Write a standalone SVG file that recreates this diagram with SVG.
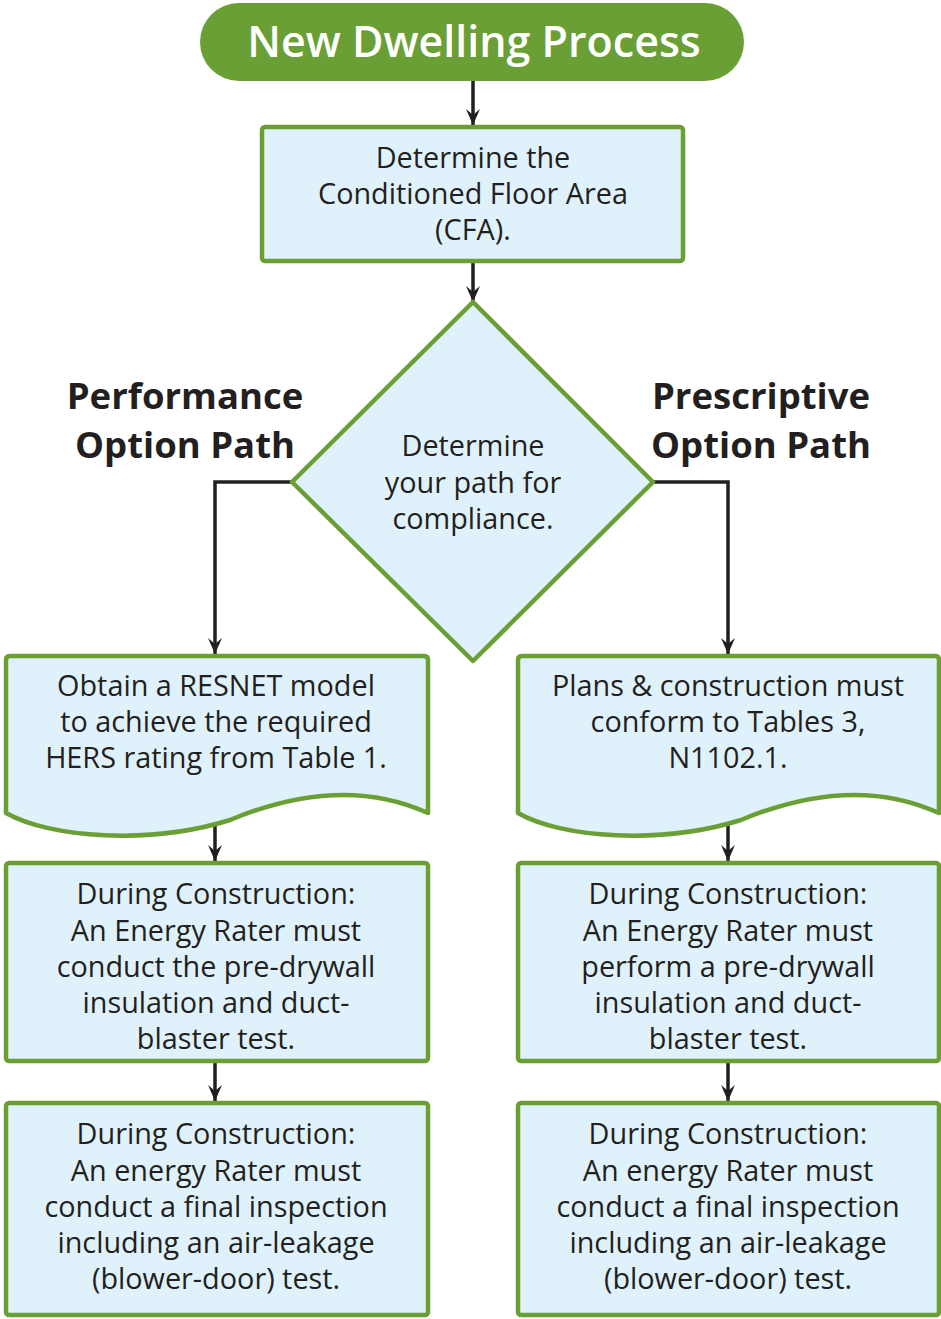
<svg xmlns="http://www.w3.org/2000/svg" width="941" height="1319" viewBox="0 0 941 1319">
<defs>
<marker id="arr" viewBox="0 0 16 16" refX="16" refY="8" markerWidth="16" markerHeight="16" markerUnits="userSpaceOnUse" orient="auto">
<path d="M16,8 L0,1 L6,8 L0,15 Z" fill="#231f20"/>
</marker>
<style>
.box{fill:#dff1fb;stroke:#6a9f35;stroke-width:4.5;stroke-linejoin:round}
.t{font-family:"Open Sans","Noto Sans",sans-serif;font-size:28.8px;fill:#231f20;text-anchor:middle}
.h{font-family:"Open Sans","Noto Sans",sans-serif;font-size:36.5px;font-weight:bold;fill:#231f20;text-anchor:middle}
.c{fill:none;stroke:#231f20;stroke-width:3.5;marker-end:url(#arr)}
</style>
</defs>
<rect width="941" height="1319" fill="#ffffff"/>
<g id="connectors">
<line class="c" x1="473" y1="80" x2="473" y2="125"/>
<line class="c" x1="473" y1="262" x2="473" y2="302"/>
<polyline class="c" points="292,482 215,482 215,654"/>
<polyline class="c" points="653,482 728,482 728,654"/>
<line class="c" x1="215" y1="815" x2="215" y2="861"/>
<line class="c" x1="728" y1="815" x2="728" y2="861"/>
<line class="c" x1="215" y1="1062" x2="215" y2="1101"/>
<line class="c" x1="728" y1="1062" x2="728" y2="1101"/>
</g>
<g id="title">
<rect x="200" y="3" width="544" height="78" rx="39" fill="#6a9f35"/>
<text x="474" y="57" font-family="Open Sans,Noto Sans,sans-serif" font-size="43" font-weight="600" fill="#ffffff" text-anchor="middle">New Dwelling Process</text>
</g>
<g id="cfa">
<rect class="box" x="262" y="127" width="421" height="134" rx="3"/>
<text class="t" x="473" y="168">Determine the</text>
<text class="t" x="473" y="204">Conditioned Floor Area</text>
<text class="t" x="473" y="240">(CFA).</text>
</g>
<g id="decision">
<polygon class="box" points="473,302 653,482 473,661 292,482"/>
<text class="t" x="473" y="456">Determine</text>
<text class="t" x="473" y="493">your path for</text>
<text class="t" x="473" y="529">compliance.</text>
</g>
<g id="label-performance">
<text class="h" x="185" y="409">Performance</text>
<text class="h" x="185" y="458">Option Path</text>
</g>
<g id="label-prescriptive">
<text class="h" x="761" y="409">Prescriptive</text>
<text class="h" x="761" y="458">Option Path</text>
</g>
<g id="resnet">
<path class="box" d="M6,660 Q6,656 10,656 L424,656 Q428,656 428,660 L428,813 C360,782 290,795 230,820 C150,845 50,838 6,813 Z"/>
<text class="t" x="216" y="696">Obtain a RESNET model</text>
<text class="t" x="216" y="732">to achieve the required</text>
<text class="t" x="216" y="768">HERS rating from Table 1.</text>
</g>
<g id="plans">
<path class="box" d="M518,660 Q518,656 522,656 L935,656 Q939,656 939,660 L939,813 C871,782 801,795 741,820 C661,845 561,838 518,813 Z"/>
<text class="t" x="728" y="696">Plans &amp; construction must</text>
<text class="t" x="728" y="732">conform to Tables 3,</text>
<text class="t" x="728" y="768">N1102.1.</text>
</g>
<g id="perf-predrywall">
<rect class="box" x="6" y="863" width="422" height="198" rx="3"/>
<text class="t" x="216" y="904">During Construction:</text>
<text class="t" x="216" y="941">An Energy Rater must</text>
<text class="t" x="216" y="977">conduct the pre-drywall</text>
<text class="t" x="216" y="1013">insulation and duct-</text>
<text class="t" x="216" y="1049">blaster test.</text>
</g>
<g id="pres-predrywall">
<rect class="box" x="518" y="863" width="421" height="198" rx="3"/>
<text class="t" x="728" y="904">During Construction:</text>
<text class="t" x="728" y="941">An Energy Rater must</text>
<text class="t" x="728" y="977">perform a pre-drywall</text>
<text class="t" x="728" y="1013">insulation and duct-</text>
<text class="t" x="728" y="1049">blaster test.</text>
</g>
<g id="perf-final">
<rect class="box" x="6" y="1103" width="422" height="212" rx="3"/>
<text class="t" x="216" y="1144">During Construction:</text>
<text class="t" x="216" y="1181">An energy Rater must</text>
<text class="t" x="216" y="1217">conduct a final inspection</text>
<text class="t" x="216" y="1253">including an air-leakage</text>
<text class="t" x="216" y="1289">(blower-door) test.</text>
</g>
<g id="pres-final">
<rect class="box" x="518" y="1103" width="421" height="212" rx="3"/>
<text class="t" x="728" y="1144">During Construction:</text>
<text class="t" x="728" y="1181">An energy Rater must</text>
<text class="t" x="728" y="1217">conduct a final inspection</text>
<text class="t" x="728" y="1253">including an air-leakage</text>
<text class="t" x="728" y="1289">(blower-door) test.</text>
</g>
</svg>
